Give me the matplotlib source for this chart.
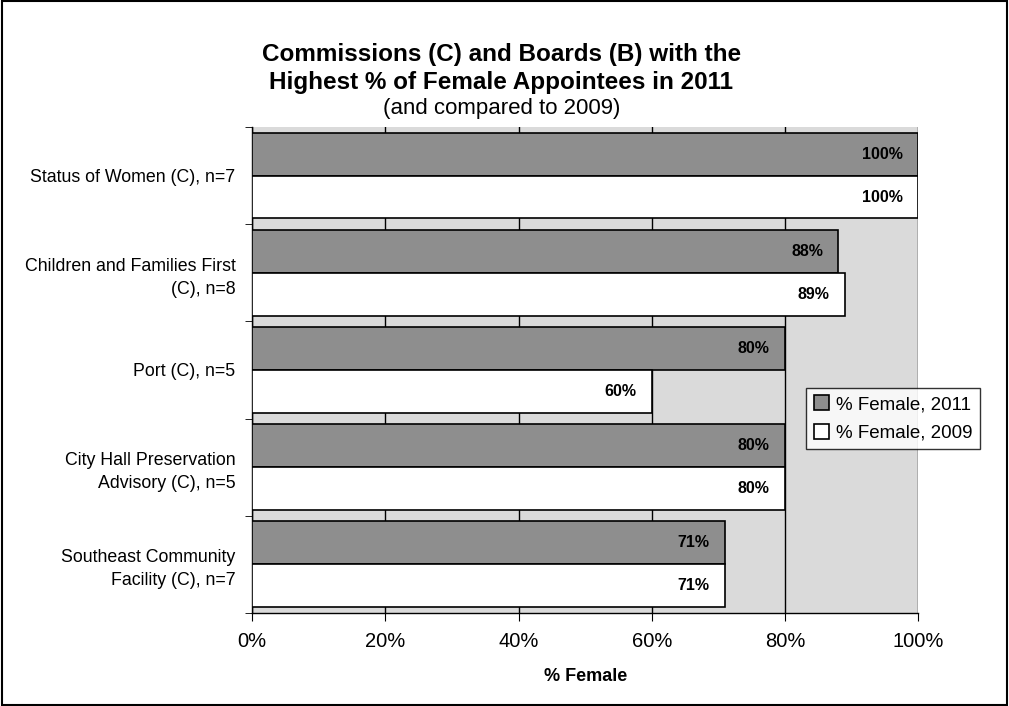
import numpy as np
import matplotlib.pyplot as plt
from matplotlib.patches import Rectangle

plt.rcParams['font.family'] = ['Liberation Sans', 'DejaVu Sans']

categories = ["Status of Women (C), n=7",
              "Children and Families First\n(C), n=8",
              "Port (C), n=5",
              "City Hall Preservation\nAdvisory (C), n=5",
              "Southeast Community\nFacility (C), n=7"]
female_2011 = [100, 88, 80, 80, 71]
female_2009 = [100, 89, 60, 80, 71]
xticks = [0, 20, 40, 60, 80, 100]

fig = plt.figure(figsize=(10.09, 7.06), dpi=100)
ax = fig.add_axes([0.25, 0.132, 0.66, 0.688])
ax.set_facecolor('#dadada')

y = np.arange(len(categories))
h = 0.44
b1 = ax.barh(y - h / 2, female_2011, height=h, color='#8e8e8e',
             edgecolor='black', linewidth=1.2, label='% Female, 2011', zorder=3)
b2 = ax.barh(y + h / 2, female_2009, height=h, color='white',
             edgecolor='black', linewidth=1.2, label='% Female, 2009', zorder=3)

for bars, vals in ((b1, female_2011), (b2, female_2009)):
    for bar, v in zip(bars, vals):
        ax.text(v - 2.3, bar.get_y() + bar.get_height() / 2, f"{v}%",
                ha='right', va='center', fontsize=11.5, fontweight='bold', zorder=4)

ax.set_xlim(0, 100)
ax.set_ylim(len(categories) - 0.5, -0.5)
ax.set_xticks(xticks)
ax.set_xticklabels([f"{t}%" for t in xticks], fontsize=14.5)
ax.set_yticks(y)
ax.set_yticklabels(categories, fontsize=12.8, linespacing=1.45)
ax.set_yticks(np.arange(len(categories) + 1) - 0.5, minor=True)
ax.tick_params(axis='y', which='major', length=0, pad=12)
ax.tick_params(axis='y', which='minor', length=5, direction='out')
ax.tick_params(axis='x', length=6, direction='out', pad=8)
ax.xaxis.grid(True, color='black', linewidth=1, zorder=1)
ax.set_axisbelow(True)
for s in ['top', 'right']:
    ax.spines[s].set_visible(False)
ax.spines['left'].set_linewidth(1)
ax.spines['bottom'].set_linewidth(1)
ax.set_xlabel("% Female", fontsize=13, fontweight='bold', labelpad=12)

fig.text(0.497, 0.903, "Commissions (C) and Boards (B) with the\nHighest % of Female Appointees in 2011",
         ha='center', va='center', fontsize=17.5, fontweight='bold', linespacing=1.3)
fig.text(0.497, 0.846, "(and compared to 2009)", ha='center', va='center', fontsize=16)

leg = fig.legend(handles=[b1, b2], loc='center left', bbox_to_anchor=(0.79, 0.407),
                 fontsize=13.5, frameon=True, fancybox=False, edgecolor='black',
                 handlelength=0.8, handleheight=0.8, handletextpad=0.4,
                 borderpad=0.4, labelspacing=0.6)
leg.get_frame().set_linewidth(1)

fig.patches.append(Rectangle((0.002, 0.002), 0.996, 0.996, transform=fig.transFigure,
                             fill=False, edgecolor='black', linewidth=1.5))

fig.savefig("out.png", dpi=100)
